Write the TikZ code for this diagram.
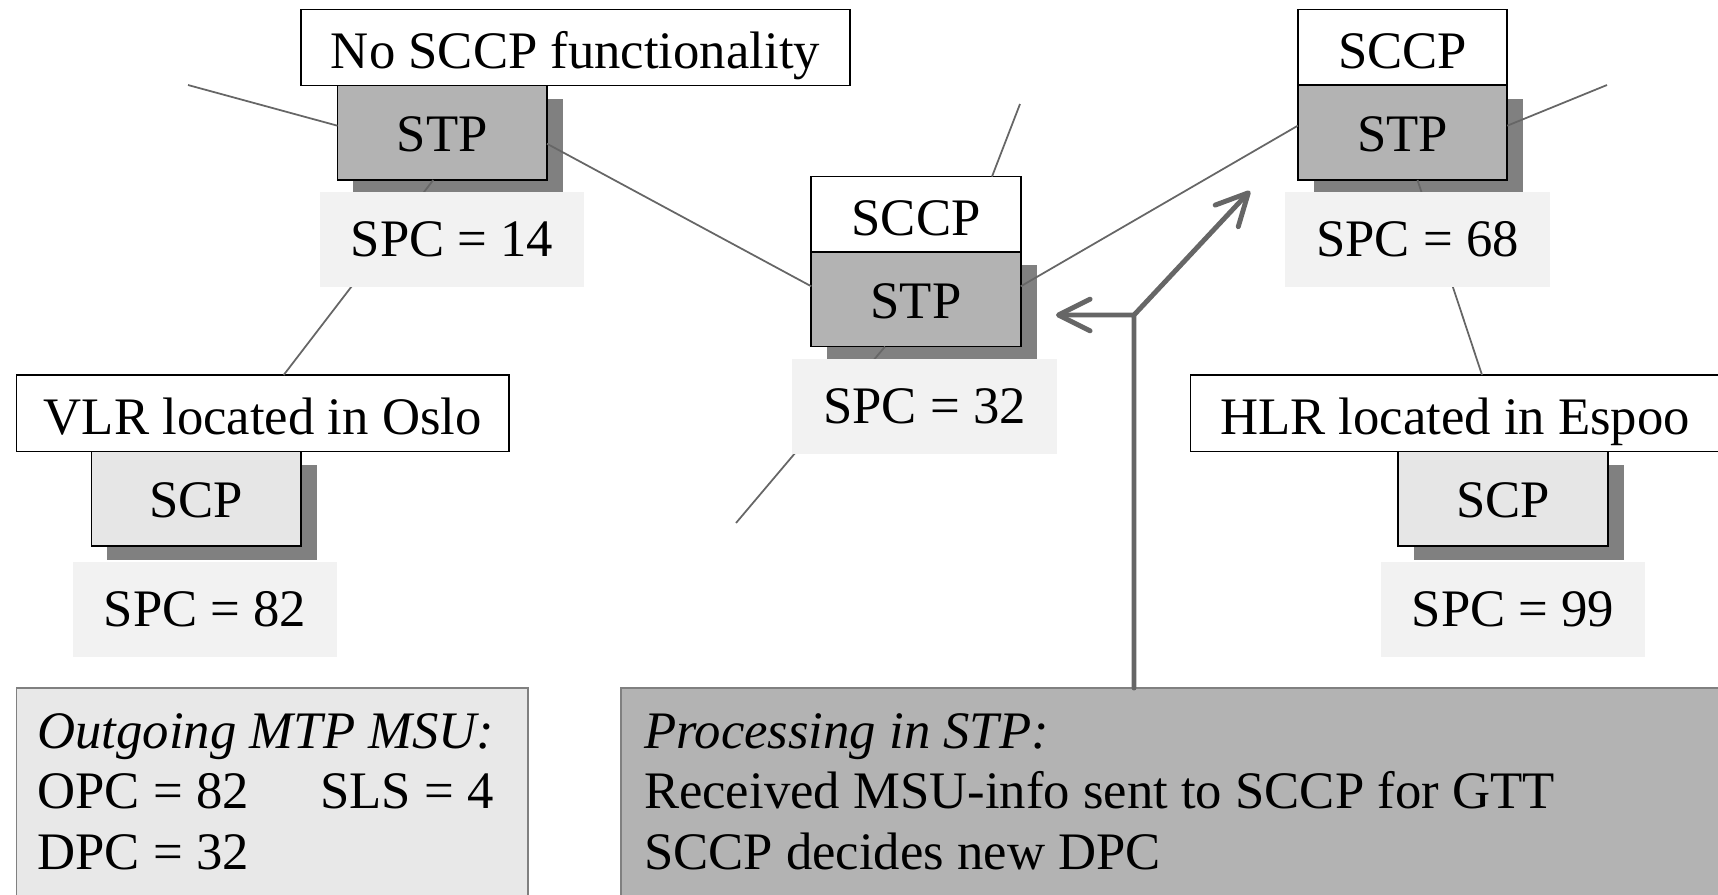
\documentclass[tikz,border=0pt]{standalone}
\usepackage{fontspec}
\setmainfont{Liberation Serif}
\usetikzlibrary{calc,shadows,arrows.meta}
\definecolor{stpgray}{HTML}{B3B3B3}
\definecolor{shadegray}{HTML}{808080}
\definecolor{scpgray}{HTML}{E6E6E6}
\definecolor{spcgray}{HTML}{F2F2F2}
\definecolor{boxgray}{HTML}{E8E8E8}
\definecolor{linkgray}{HTML}{666666}

\begin{document}
\begin{tikzpicture}[x=0.02cm,y=-0.02cm,
  font=\fontsize{30}{34.6}\selectfont,
  every node/.style={inner sep=0pt,outer sep=0pt},
  namebox/.style={draw=black,line width=0.9pt,fill=white,text height=24pt,text depth=0pt},
  dropshade/.style={drop shadow={shadow xshift=0.32cm,shadow yshift=-0.27cm,fill=shadegray,opacity=1}},
  stpbox/.style={draw=black,line width=0.9pt,fill=stpgray,minimum width=4.19cm,minimum height=1.894cm,text height=21.6pt,text depth=0pt,dropshade},
  scpbox/.style={stpbox,fill=scpgray},
  sccpbox/.style={namebox,minimum width=4.19cm,minimum height=1.51cm},
  spcbox/.style={fill=spcgray,minimum width=5.3cm,minimum height=1.9cm},
  link/.style={draw=linkgray,line width=1pt},
  infobox/.style={draw=shadegray,line width=1.1pt,anchor=north west,minimum height=4.4cm},
  flow/.style={draw=linkgray,line width=2.8pt,line cap=round,-{Straight Barb[length=18pt,width=18pt,round]}}]
  \useasboundingbox (0,0) rectangle (1718,894);

  % boxes
  \node[namebox,minimum width=10.99cm,minimum height=1.52cm] (nosccp) at (575.5,47.3) {No SCCP functionality};
  \node[stpbox] (stpA) at (442.2,132.7) {STP};
  \node[namebox,minimum width=9.85cm,minimum height=1.534cm] (vlr) at (262.7,413.3) {VLR located in Oslo};
  \node[scpbox] (scpA) at (196.1,498.8) {SCP};
  \node[sccpbox] (sccpM) at (916,214.3) {SCCP};
  \node[stpbox] (stpM) at (916,299.3) {STP};
  \node[sccpbox] (sccpR) at (1402.5,47.3) {SCCP};
  \node[stpbox] (stpR) at (1402.5,132.7) {STP};
  \node[namebox,minimum width=10.59cm,minimum height=1.534cm] (hlr) at (1455,413.3) {HLR located in Espoo};
  \node[scpbox] (scpR) at (1503,498.8) {SCP};

  % links
  \coordinate (westend) at (188,85);
  \coordinate (eastend) at (1607,85);
  \coordinate (upend) at (1020,104);
  \coordinate (downend) at (736,523);
  \draw[link] (westend) -- ($(stpA.west)+(0,-7)$);
  \draw[link] ($(stpA.east)+(0,11)$) -- ($(stpM.west)+(0,-13)$);
  \draw[link] ($(stpA.south)+(-9,0)$) -- ($(vlr.north)+(21,0)$);
  \draw[link] ($(stpM.east)+(0,-13)$) -- ($(stpR.west)+(0,-7)$);
  \draw[link] ($(stpR.east)+(0,-7)$) -- (eastend);
  \draw[link] ($(stpR.south)+(15,0)$) -- ($(hlr.north)+(27,0)$);
  \draw[link] ($(sccpM.north)+(76,0)$) -- (upend);
  \draw[link] ($(stpM.south)+(-31,0)$) -- (downend);

  % signalling point codes
  \node[spcbox] (spcA) at (452,239.5) {SPC = 14};
  \node[spcbox] (spcB) at (205,609.2) {SPC = 82};
  \node[spcbox] (spcM) at (924.5,406) {SPC = 32};
  \node[spcbox] (spcR) at (1417.5,239.3) {SPC = 68};
  \node[spcbox] (spcS) at (1513,609.2) {SPC = 99};

  % notes
  \node[infobox,fill=boxgray,minimum width=10.23cm] (outbox) at (16.5,688) {};
  \node[infobox,fill=stpgray,minimum width=22.2cm] (procbox) at (621.4,688) {};
  \node[anchor=base west] (outtext) at ($(outbox.north west)+(21,60)$)
    {\begin{tabular}[t]{@{}l@{}}\textit{Outgoing MTP MSU:}\\\makebox[160.9pt][l]{OPC = 82}SLS = 4\\DPC = 32\end{tabular}};
  \node[anchor=base west] (proctext) at ($(procbox.north west)+(22.6,60)$)
    {\begin{tabular}[t]{@{}l@{}}\textit{Processing in STP:}\\Received MSU-info sent to SCCP for GTT\\SCCP decides new DPC\end{tabular}};

  \coordinate (fork) at (1134,315);
  \coordinate (tipL) at (1056,315);
  \coordinate (tipR) at (1250,191);
  \draw[flow] ($(procbox.north west)+(512.6,0)$) -- (fork) -- (tipL);
  \draw[flow] (fork) -- (tipR);
\end{tikzpicture}
\end{document}
